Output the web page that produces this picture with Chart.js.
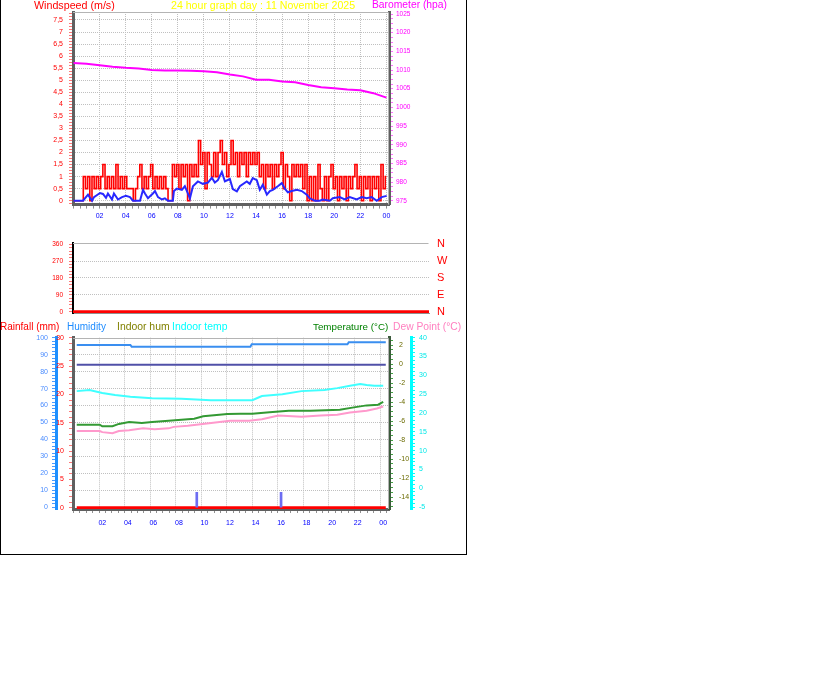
<!DOCTYPE html>
<html>
<head>
<meta charset="utf-8">
<title>24 hour graph</title>
<script src="https://cdn.jsdelivr.net/npm/chart.js"></script>
<style>
  body { margin: 0; background: #fff; font-family: "Liberation Sans", Arial, sans-serif; }
  #frame { position: absolute; left: 0; top: -1px; width: 465px; height: 554px; border: 1px solid #000; }
  canvas { position: absolute; left: 0; }
  .t { position: absolute; line-height: 12px; white-space: nowrap; }
</style>
</head>
<body>
<div id="frame"></div>
<canvas id="top" width="466" height="230" style="top:0"></canvas>
<canvas id="mid" width="466" height="95" style="top:230px"></canvas>
<canvas id="bot" width="466" height="230" style="top:325px"></canvas>

<div class="t" style="left:34px;top:-1px;font-size:10.7px;color:#ff0000">Windspeed (m/s)</div>
<div class="t" style="left:171px;top:-1px;font-size:10.6px;color:#ffff00">24 hour graph day : 11 November 2025</div>
<div class="t" style="left:372px;top:-1px;font-size:10.3px;color:#ff00ff">Barometer (hpa)</div>
<div class="t" style="left:0;top:321px;font-size:10px;color:#ff0000">Rainfall (mm)</div>
<div class="t" style="left:67px;top:321px;font-size:10px;color:#1e8cff">Humidity</div>
<div class="t" style="left:117px;top:321px;font-size:10.4px;color:#808000">Indoor hum</div>
<div class="t" style="left:172px;top:321px;font-size:10.4px;color:#00ffff">Indoor temp</div>
<div class="t" style="left:313px;top:321px;font-size:9.8px;color:#008000">Temperature (°C)</div>
<div class="t" style="left:393px;top:321px;font-size:10.3px;color:#ff80c0">Dew Point (°C)</div>

<script>
// x axis labels (every 2 hours)
const hourLabels = ['02', '04', '06', '08', '10', '12', '14', '16', '18', '20', '22', '00'];
const compassLabels = ['N', 'E', 'S', 'W', 'N'];

// wind gust, one value every 10 minutes from 00:00
const gust = [
  0, 0, 0, 0, 0, 1, 0.5, 1, 0, 1,
  0.5, 1, 0.5, 1, 1.5, 0.5, 1, 0.5, 1, 0.5,
  1.5, 0.5, 1, 0.5, 1, 0.5, 0.5, 0.5, 0, 0.5,
  1, 1.5, 0.5, 1, 0.5, 1, 1.5, 0.5, 1, 0.5,
  1, 0.5, 1, 0.5, 0, 0, 1.5, 1, 1.5, 0.5,
  1.5, 1, 1.5, 0, 1.5, 1, 1.5, 1, 2.5, 1.5,
  2, 0.5, 2, 1.5, 1, 2, 1, 2, 2.5, 1.5,
  2, 1, 1.5, 2.5, 1.5, 2, 1, 2, 1.5, 2,
  1, 2, 1.5, 2, 1.5, 2, 1, 1.5, 0.5, 1.5,
  1, 1.5, 0.5, 1.5, 1, 1.5, 2, 0.5, 1.5, 1,
  0, 1.5, 1, 1.5, 1, 1.5, 0.5, 1.5, 0, 1,
  0, 1, 0, 1.5, 0.5, 0, 1, 0, 1, 1.5,
  0.5, 1, 0, 1, 0.5, 1, 0, 1, 0.5, 1,
  1.5, 0.5, 1, 0, 1, 0.5, 1, 0, 1, 0.5,
  1, 0, 1.5, 0.5, 1
];

// average wind speed
const avgHours = [0, 0.73, 1.11, 1.42, 1.57, 2.03, 2.26, 2.49, 2.64, 2.95, 3.1, 3.41, 3.72, 4.02, 4.33, 4.56,
  5.1, 5.33, 5.48, 5.71, 6.09, 6.25, 6.48, 6.78, 7.01, 7.24, 7.62, 7.7, 7.93, 8.31, 8.54, 8.77, 8.93,
  9.16, 9.54, 9.92, 10.31, 10.61, 10.84, 11.07, 11.38, 11.61, 11.99, 12.22, 12.53, 12.76, 13.29, 13.52,
  13.75, 14.06, 14.29, 14.52, 14.83, 15.06, 15.29, 15.67, 15.98, 16.21, 16.44, 16.74, 17.13, 17.51,
  17.89, 18.12, 18.51, 18.89, 19.12, 19.66, 19.89, 20.42, 20.8, 21.19, 21.72, 22.11, 22.49, 22.87,
  23.26, 23.64, 24.02];
const avgSpeeds = [0, 0, 0.25, 0, 0.15, 0.32, 0.28, 0.12, 0.3, 0.05, 0.3, 0.05, 0.15, 0.2, 0.15, 0,
  0, 0.45, 0.3, 0.1, 0.3, 0.4, 0.15, 0.05, 0.1, 0, 0, 0.4, 0.5, 0.45, 0.6, 0.3, 0.1,
  0.6, 0.8, 0.7, 0.75, 0.95, 0.75, 0.85, 1.19, 0.8, 0.9, 0.48, 0.39, 0.6, 0.8, 0.7,
  0.94, 0.85, 0.45, 0.66, 0.25, 0.4, 0.45, 0.6, 0.73, 0.5, 0.35, 0.4, 0.45, 0.4,
  0.25, 0.1, 0, 0, 0.05, 0, 0.1, 0.15, 0.05, 0.15, 0.05, 0.15, 0.1, 0.15,
  0, 0.15, 0.2];

// barometer, hourly
const baroHours = [0, 1, 2, 3, 4, 5, 6, 7, 8, 9, 10, 11, 12, 13, 14, 15, 16, 17, 18, 19, 20, 21, 22, 23, 24];
const baroValues = [1011.9, 1011.7, 1011.3, 1010.9, 1010.6, 1010.4, 1010.0, 1009.9, 1009.9, 1009.8, 1009.7,
  1009.4, 1008.8, 1008.3, 1007.4, 1007.4, 1006.9, 1006.7, 1006.0, 1005.4, 1005.1, 1004.8, 1004.6, 1003.8, 1002.6];

// wind direction
const dirHours = [0, 24];
const dirValues = [0, 0];

// rainfall
const rainHours = [0, 24.2];
const rainValues = [0, 0];
const rainMarkHours = [9.4, 16.0];
const rainMarkValues = [2.7, 2.7];

// humidity
const humHours = [0, 4.2, 4.3, 13.6, 13.7, 21.2, 21.3, 24.2];
const humValues = [95.7, 95.7, 94.7, 94.7, 96.1, 96.1, 97.3, 97.3];
const inHumHours = [0, 24.2];
const inHumValues = [84.1, 84.1];

// indoor temp
const inTempHours = [0, 1.0, 2.0, 3.0, 4.2, 5.9, 8.2, 10.5, 12.0, 13.75, 14.1, 14.5, 16.1, 17.6, 19.4, 20.4, 21.4, 22.2, 22.7, 23.3, 24.0];
const inTempValues = [25.8, 26.1, 25.3, 24.8, 24.3, 23.9, 23.8, 23.4, 23.4, 23.4, 23.9, 24.5, 25.0, 25.8, 26.1, 26.6, 27.2, 27.7, 27.4, 27.2, 27.2];

// temperature
const tempHours = [0, 1.8, 2.0, 2.8, 3.3, 4.1, 5.1, 5.9, 7.2, 8.2, 9.2, 9.9, 11.8, 12.8, 13.75, 15.1, 16.6, 18.3, 20.6, 21.7, 22.7, 23.6, 24.0];
const tempValues = [-6.38, -6.38, -6.55, -6.55, -6.3, -6.09, -6.2, -6.09, -5.96, -5.85, -5.75, -5.5, -5.25, -5.22, -5.22, -5.08, -4.91, -4.91, -4.8, -4.56, -4.35, -4.28, -3.99];

// dew point
const dewHours = [0, 1.8, 2.0, 2.8, 3.3, 4.1, 5.2, 6.1, 7.2, 7.6, 8.7, 10.2, 12.0, 13.5, 14.5, 15.8, 17.6, 19.1, 20.4, 21.4, 22.7, 23.5, 24.0];
const dewValues = [15.2, 15.2, 14.9, 14.6, 15.2, 15.4, 15.9, 15.7, 15.9, 16.3, 16.6, 17.2, 17.9, 17.9, 18.3, 19.3, 19.0, 19.3, 19.5, 20.1, 20.6, 21.2, 21.7];

const FONT = '"Liberation Sans", Arial, sans-serif';
const GRID = '#c0c0c0';
const CLEAR = 'rgba(0,0,0,0)';
Chart.defaults.font.family = FONT;

const pairs = (xs, ys) => xs.map((x, i) => ({ x: x, y: ys[i] }));
const isMult = (v, m) => { const r = v / m; return Math.abs(r - Math.round(r)) < 1e-6; };
const fixW = w => s => { s.width = w; s.paddingTop = 0; s.paddingBottom = 0; };
const fixH = h => s => { s.height = h; s.paddingLeft = 0; s.paddingRight = 0; };

const framePlugin = {
  id: 'frame',
  beforeDatasetsDraw(chart, args, opts) {
    const a = chart.chartArea, ctx = chart.ctx;
    ctx.save();
    ctx.strokeStyle = '#b4b4b4';
    ctx.lineWidth = 1;
    ctx.beginPath();
    ctx.moveTo(a.left, Math.round(a.top) + 0.5);
    ctx.lineTo(Math.round(a.right) - 0.5, Math.round(a.top) + 0.5);
    if (opts.right !== false) ctx.lineTo(Math.round(a.right) - 0.5, a.bottom);
    ctx.stroke();
    ctx.restore();
  }
};

function hourAxis(height, pad) {
  return {
    type: 'linear', position: 'bottom', min: -0.04, max: 24.2,
    afterFit: fixH(height),
    ticks: {
      stepSize: 0.5, includeBounds: false, autoSkip: false, maxRotation: 0, padding: pad,
      color: '#0000ff', font: { size: 7 },
      callback: v => (v > 0 && isMult(v, 2)) ? hourLabels[Math.round(v / 2) - 1] : ''
    },
    grid: {
      color: c => (c.tick && c.tick.value > 0 && isMult(c.tick.value, 2)) ? GRID : CLEAR,
      tickColor: '#909090', tickLength: 4
    },
    border: { color: '#606060', width: 3, dash: [1, 1] }
  };
}

const common = {
  type: 'line',
  plugins: [framePlugin],
  options: {
    responsive: false, animation: false, devicePixelRatio: 1,
    elements: { point: { radius: 0 }, line: { tension: 0 } },
    plugins: { legend: { display: false }, tooltip: { enabled: false } }
  }
};

// top: wind speed + barometer
new Chart(document.getElementById('top'), {
  ...common,
  data: {
    datasets: [
      { label: 'Average', data: pairs(avgHours, avgSpeeds), yAxisID: 'ws', borderColor: '#2828ff', borderWidth: 2 },
      { label: 'Gust', data: gust.map((v, i) => ({ x: i / 6, y: v })), yAxisID: 'ws', borderColor: '#ff0000', borderWidth: 1.6, stepped: 'middle' },
      { label: 'Barometer', data: pairs(baroHours, baroValues), yAxisID: 'baro', borderColor: '#ff00ff', borderWidth: 2 }
    ]
  },
  options: {
    ...common.options,
    layout: { padding: { top: 12, left: 0, right: 0, bottom: 0 } },
    scales: {
      x: hourAxis(25.4, 3),
      ws: {
        position: 'left', min: -0.162, max: 7.832, afterFit: fixW(73),
        ticks: {
          stepSize: 0.125, includeBounds: false, autoSkip: false, padding: 6,
          color: '#ff0000', font: { size: 7 },
          callback: v => isMult(v, 0.5) ? String(v).replace('.', ',') : ''
        },
        grid: { color: c => (c.tick && isMult(c.tick.value, 0.5)) ? GRID : CLEAR, tickColor: '#ff7878', tickLength: 4 },
        border: { color: '#606060', width: 3, dash: [1, 1] }
      },
      baro: {
        position: 'right', min: 973.96, max: 1025.54, afterFit: fixW(77),
        ticks: {
          stepSize: 1.25, includeBounds: false, autoSkip: false, padding: 3,
          color: '#ff00ff', font: { size: 6.5 },
          callback: v => isMult(v, 5) ? String(v) : ''
        },
        grid: { drawOnChartArea: false, tickColor: '#ff70ff', tickLength: 4 },
        border: { color: '#606060', width: 3 }
      }
    }
  }
});

// middle: wind direction
new Chart(document.getElementById('mid'), {
  ...common,
  data: {
    datasets: [
      { label: 'Direction', data: pairs(dirHours, dirValues), yAxisID: 'dir', borderColor: '#ff0000', borderWidth: 3 }
    ]
  },
  options: {
    ...common.options,
    layout: { padding: { top: 13, left: 0, right: 0, bottom: 0 } },
    plugins: { ...common.options.plugins, frame: { right: false } },
    scales: {
      x: {
        type: 'linear', min: 0, max: 24, afterFit: fixH(12),
        ticks: { display: false }, grid: { display: false },
        border: { color: '#909090', width: 1 }
      },
      dir: {
        position: 'left', min: -6.9, max: 366.9, afterFit: fixW(73),
        ticks: {
          stepSize: 18, includeBounds: false, autoSkip: false, padding: 6,
          color: '#ff0000', font: { size: 6.5 },
          callback: v => isMult(v, 90) ? String(v) : ''
        },
        grid: {
          color: c => { const v = c.tick ? c.tick.value : 0; return (v > 0 && v < 360 && isMult(v, 90)) ? GRID : CLEAR; },
          tickColor: '#ff7878', tickLength: 4
        },
        border: { color: '#000000', width: 2, dash: [1, 1] }
      },
      dirR: {
        position: 'right', min: -6.9, max: 366.9, afterFit: fixW(37),
        ticks: {
          stepSize: 90, includeBounds: false, autoSkip: false, padding: 8,
          color: '#ff0000', font: { size: 11 },
          callback: v => compassLabels[Math.round(v / 90)]
        },
        grid: { display: false, drawTicks: false },
        border: { display: false }
      }
    }
  }
});

// bottom: rain, humidity, temperatures
new Chart(document.getElementById('bot'), {
  ...common,
  data: {
    datasets: [
      { label: 'Rain', type: 'bar', data: pairs(rainMarkHours, rainMarkValues), yAxisID: 'rain', backgroundColor: '#6d6df2', barThickness: 2 },
      { label: 'Rainfall', data: pairs(rainHours, rainValues), yAxisID: 'rain', borderColor: '#ff0000', borderWidth: 3 },
      { label: 'Humidity', data: pairs(humHours, humValues), yAxisID: 'hum', borderColor: '#3a8ef0', borderWidth: 2 },
      { label: 'Indoor hum', data: pairs(inHumHours, inHumValues), yAxisID: 'hum', borderColor: '#5050a8', borderWidth: 2 },
      { label: 'Indoor temp', data: pairs(inTempHours, inTempValues), yAxisID: 'dew', borderColor: '#40ffff', borderWidth: 2 },
      { label: 'Temperature', data: pairs(tempHours, tempValues), yAxisID: 'temp', borderColor: '#339933', borderWidth: 2 },
      { label: 'Dew Point', data: pairs(dewHours, dewValues), yAxisID: 'dew', borderColor: '#ff99cc', borderWidth: 2 }
    ]
  },
  options: {
    ...common.options,
    layout: { padding: { top: 12.7, left: 0, right: 0, bottom: 0 } },
    scales: {
      x: hourAxis(46, 6),
      hum: {
        position: 'left', weight: 2, min: -1, max: 100, afterFit: fixW(56),
        ticks: {
          stepSize: 2, includeBounds: false, autoSkip: false, padding: 4,
          color: '#4a8cff', font: { size: 7 },
          callback: v => isMult(v, 10) ? String(v) : ''
        },
        grid: {
          color: c => { const v = c.tick ? c.tick.value : 0; return (v > 0 && v < 100 && isMult(v, 10)) ? GRID : CLEAR; },
          tickColor: '#4a9cff', tickLength: 4
        },
        border: { color: '#1e90ff', width: 3, dash: [1, 1] }
      },
      rain: {
        position: 'left', weight: 1, min: -0.23, max: 30, afterFit: fixW(17),
        ticks: {
          stepSize: 1, includeBounds: false, autoSkip: false, padding: 5,
          color: '#ff0000', font: { size: 7 },
          callback: v => isMult(v, 5) ? String(v) : ''
        },
        grid: { drawOnChartArea: false, tickColor: '#ff7878', tickLength: 4 },
        border: { color: '#606060', width: 3 }
      },
      temp: {
        position: 'right', weight: 1, min: -15.25, max: 2.77, afterFit: fixW(22),
        ticks: {
          stepSize: 0.5, includeBounds: false, autoSkip: false, padding: 6,
          color: '#6b6b00', font: { size: 7 },
          callback: v => isMult(v, 2) ? String(v) : ''
        },
        grid: { drawOnChartArea: false, tickColor: '#40a040', tickLength: 4 },
        border: { color: '#3c5a3c', width: 3 }
      },
      dew: {
        position: 'right', weight: 2, min: -5.53, max: 40, afterFit: fixW(55),
        ticks: {
          stepSize: 1, includeBounds: false, autoSkip: false, padding: 4,
          color: '#00e8e8', font: { size: 7 },
          callback: v => isMult(v, 5) ? String(v) : ''
        },
        grid: { drawOnChartArea: false, tickColor: '#00ffff', tickLength: 4 },
        border: { color: '#00ffff', width: 3 }
      }
    }
  }
});
</script>
</body>
</html>
